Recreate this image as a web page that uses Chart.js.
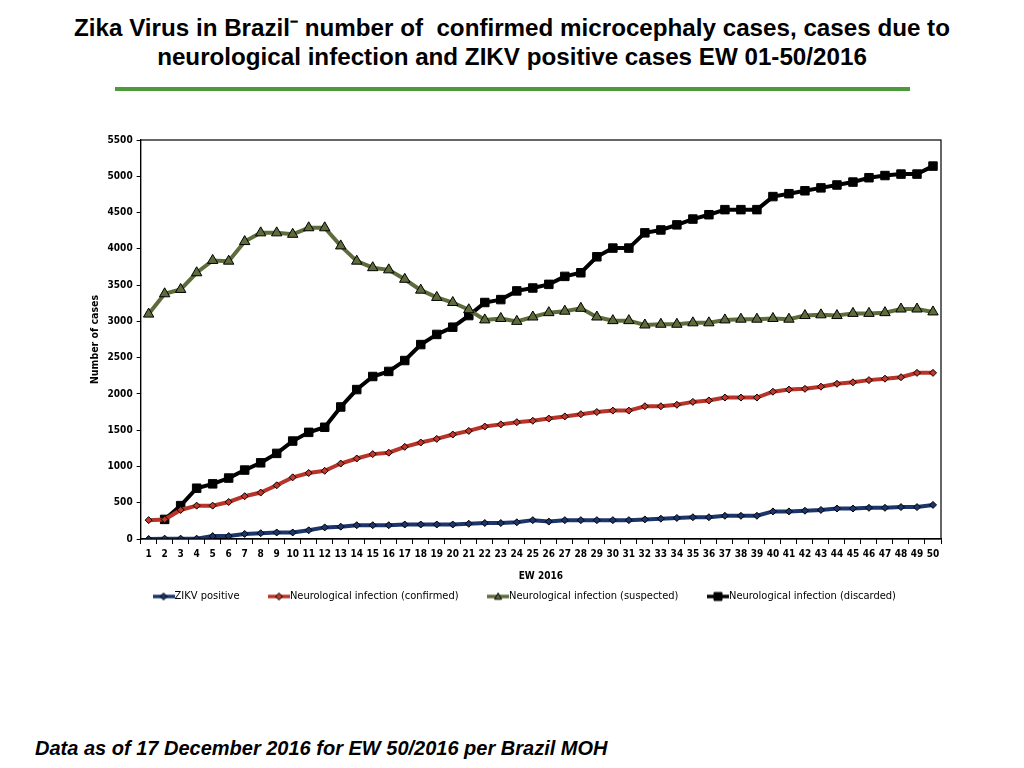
<!DOCTYPE html>
<html>
<head>
<meta charset="utf-8">
<script src="https://cdn.jsdelivr.net/npm/chart.js@4.4.1/dist/chart.umd.min.js"></script>
<style>
  html, body { margin: 0; padding: 0; background: #fff; }
  body { width: 1024px; height: 768px; position: relative; overflow: hidden; font-family: "Liberation Sans", Arial, sans-serif; }
  #title { position: absolute; left: 0; top: 13px; width: 1024px; text-align: center; font-weight: bold; font-size: 24.2px; line-height: 29px; color: #000; }
  #rule { position: absolute; left: 115px; top: 87px; width: 795px; height: 4px; background: #4c9a3b; }
  #wrap { position: absolute; left: 85px; top: 130px; width: 874px; height: 482px; }
  #footer { position: absolute; left: 35px; top: 737px; font-weight: bold; font-style: italic; font-size: 20px; color: #000; }
</style>
</head>
<body>
<div id="title">Zika Virus in Brazil⁻ number of &nbsp;confirmed microcephaly cases, cases due to<br>neurological infection and ZIKV positive cases EW 01-50/2016</div>
<div id="rule"></div>
<div id="wrap"><canvas id="chart"></canvas></div>
<div id="footer">Data as of 17 December 2016 for EW 50/2016 per Brazil MOH</div>
<script>
// epidemiological weeks 1..50
const weeks = ["1","2","3","4","5","6","7","8","9","10","11","12","13","14","15","16","17","18","19","20",
  "21","22","23","24","25","26","27","28","29","30","31","32","33","34","35","36","37","38","39","40",
  "41","42","43","44","45","46","47","48","49","50"];

const zikvPositive = [0,5,5,5,40,40,70,80,90,90,120,160,170,190,190,190,200,200,200,200,
  210,220,220,230,260,240,260,260,260,260,260,270,280,290,300,300,320,320,320,380,
  380,390,400,420,420,430,430,440,440,470];

const neuroConfirmed = [260,270,400,460,460,510,590,640,740,850,910,940,1040,1110,1170,1190,1270,1330,1380,1440,
  1490,1550,1580,1610,1630,1660,1690,1720,1750,1770,1770,1830,1830,1850,1890,1910,1950,1950,1950,2030,
  2060,2070,2100,2140,2160,2190,2210,2230,2290,2290];

const neuroSuspected = [3100,3380,3440,3670,3840,3830,4100,4220,4220,4200,4290,4290,4040,3830,3740,3710,3580,3430,3330,3260,
  3160,3020,3040,3000,3060,3120,3140,3180,3060,3010,3010,2950,2960,2960,2980,2980,3020,3030,3030,3040,
  3030,3080,3090,3080,3110,3110,3120,3170,3170,3130];

const neuroDiscarded = [null,270,460,700,760,840,950,1050,1180,1350,1470,1540,1820,2060,2240,2310,2460,2680,2820,2920,
  3080,3260,3300,3420,3460,3510,3620,3670,3890,4010,4010,4220,4260,4330,4410,4470,4540,4540,4540,4720,
  4760,4800,4840,4880,4920,4980,5010,5030,5030,5140];

const yTicks = [0,500,1000,1500,2000,2500,3000,3500,4000,4500,5000,5500];

const font = "Liberation Sans Narrow, DejaVu Sans Condensed, Liberation Sans, Arial, sans-serif";

// small canvas with line + marker for the legend entries
function legendIcon(color, marker, fill, size) {
  const c = document.createElement("canvas");
  c.width = 22; c.height = 12;
  const g = c.getContext("2d");
  g.strokeStyle = color; g.lineWidth = 3.5;
  g.beginPath(); g.moveTo(0, 6); g.lineTo(22, 6); g.stroke();
  g.fillStyle = fill; g.strokeStyle = "#000"; g.lineWidth = 1;
  g.beginPath();
  if (marker === "rectRot") {
    g.moveTo(11, 6 - size); g.lineTo(11 + size, 6); g.lineTo(11, 6 + size); g.lineTo(11 - size, 6); g.closePath();
  } else if (marker === "triangle") {
    g.moveTo(11, 6 - size); g.lineTo(11 + size, 6 + size * 0.8); g.lineTo(11 - size, 6 + size * 0.8); g.closePath();
  } else {
    g.rect(11 - size, 6 - size, size * 2, size * 2);
  }
  g.fill(); g.stroke();
  return c;
}

const series = [
  { label: "ZIKV positive", data: zikvPositive, color: "#1c356b", marker: "rectRot", fill: "#1c356b", r: 3.5 },
  { label: "Neurological infection (confirmed)", data: neuroConfirmed, color: "#b8342a", marker: "rectRot", fill: "#c0392b", r: 3.5 },
  { label: "Neurological infection (suspected)", data: neuroSuspected, color: "#5e6c3b", marker: "triangle", fill: "#5e6c3b", r: 6 },
  { label: "Neurological infection (discarded)", data: neuroDiscarded, color: "#000000", marker: "rect", fill: "#000000", r: 6 }
];

const frame = {
  id: "frame",
  afterLayout(chart) {
    // legend sits a bit right of centre in the original
    chart.legend.left += 14;
    chart.legend.right += 14;
  },
  afterDraw(chart) {
    const a = chart.chartArea, g = chart.ctx;
    g.save();
    g.strokeStyle = "#000"; g.lineWidth = 1.2;
    g.strokeRect(a.left, a.top, a.right - a.left, a.bottom - a.top);
    g.restore();
  }
};

new Chart(document.getElementById("chart"), {
  type: "line",
  data: {
    labels: weeks,
    datasets: series.map(s => ({
      label: s.label,
      data: s.data,
      borderColor: s.color,
      backgroundColor: s.fill,
      borderWidth: 4,
      pointStyle: s.marker,
      pointRadius: s.r,
      pointBackgroundColor: s.fill,
      pointBorderColor: "#000",
      pointBorderWidth: 1,
      tension: 0,
      spanGaps: false
    }))
  },
  options: {
    responsive: true,
    maintainAspectRatio: false,
    animation: false,
    layout: { padding: { left: 0, right: 18, top: 6, bottom: 0 } },
    plugins: {
      tooltip: { enabled: false },
      legend: {
        position: "bottom",
        labels: {
          usePointStyle: true,
          color: "#000",
          font: { family: font, size: 11 },
          padding: 34,
          generateLabels(chart) {
            return series.map((s, i) => ({
              text: s.label,
              pointStyle: legendIcon(s.color, s.marker, s.fill, s.marker === "rect" ? 4 : 3.5),
              datasetIndex: i,
              hidden: false,
              fontColor: "#000",
              lineWidth: 0
            }));
          }
        }
      }
    },
    scales: {
      x: {
        offset: true,
        grid: { display: true, drawOnChartArea: false, drawTicks: true, tickLength: 5, color: "#000", offset: true },
        border: { color: "#000", width: 1.2 },
        ticks: { color: "#000", font: { family: font, size: 10, weight: "bold" }, maxRotation: 0, autoSkip: false, padding: 4 },
        title: { display: true, text: "EW 2016", color: "#000", font: { family: font, size: 10, weight: "bold" }, padding: { top: 6, bottom: -25 } }
      },
      y: {
        min: 0,
        max: 5500,
        afterBuildTicks(scale) { scale.ticks = yTicks.map(v => ({ value: v })); },
        grid: { display: true, drawOnChartArea: false, drawTicks: true, tickLength: 4, color: "#000" },
        border: { color: "#000", width: 1.2 },
        ticks: { color: "#000", font: { family: font, size: 10, weight: "bold" }, padding: 4, callback: v => String(v) },
        title: { display: true, text: "Number of cases", color: "#000", font: { family: font, size: 10.5, weight: "bold" }, padding: { bottom: 2 } }
      }
    }
  },
  plugins: [frame]
});
</script>
</body>
</html>
